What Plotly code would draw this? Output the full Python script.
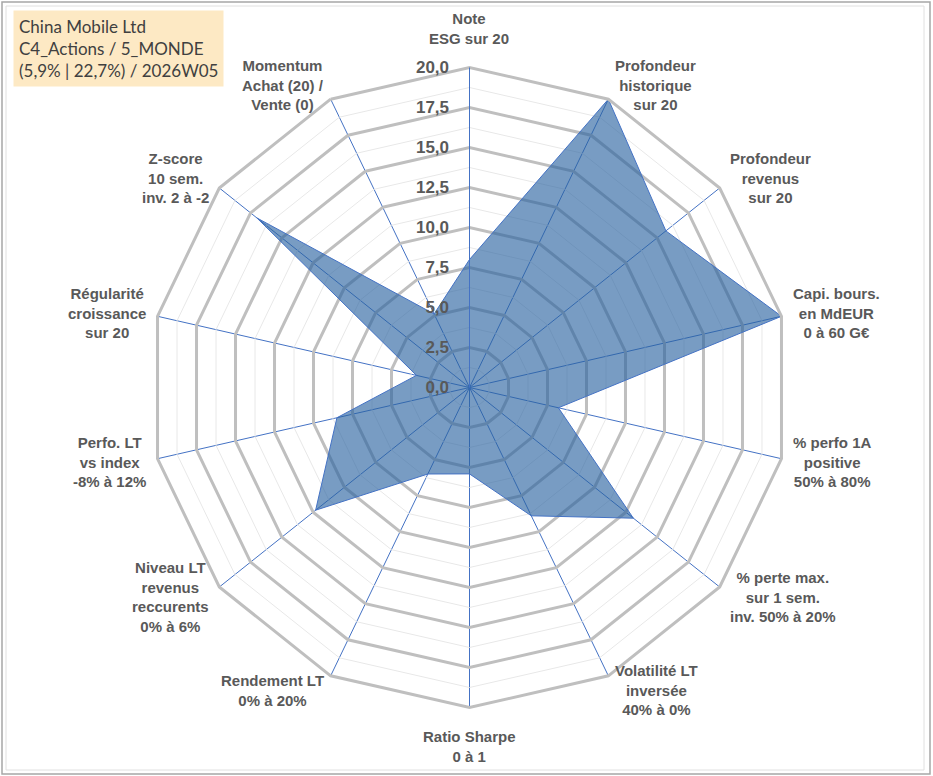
import math
import plotly.graph_objects as go

# axes of the radar, clockwise from the top
categories = [
    "Note<br>ESG sur 20",
    "Profondeur<br>historique<br>sur 20",
    "Profondeur<br>revenus<br>sur 20",
    "Capi. bours.<br>en MdEUR<br>0 à 60 G€",
    "% perfo 1A<br>positive<br>50% à 80%",
    "% perte max.<br>sur 1 sem.<br>inv. 50% à 20%",
    "Volatilité LT<br>inversée<br>40% à 0%",
    "Ratio Sharpe<br>0 à 1",
    "Rendement LT<br>0% à 20%",
    "Niveau LT<br>revenus<br>reccurents<br>0% à 6%",
    "Perfo. LT<br>vs index<br>-8% à 12%",
    "Régularité<br>croissance<br>sur 20",
    "Z-score<br>10 sem.<br>inv. 2 à -2",
    "Momentum<br>Achat (20) /<br>Vente (0)",
]
scores = [8.0, 20.0, 15.7, 20.0, 5.7, 13.1, 8.9, 5.4, 6.0, 12.3, 8.5, 3.4, 17.0, 5.1]

radial_ticks = [0, 2.5, 5, 7.5, 10, 12.5, 15, 17.5, 20]
minor_rings = [1.25, 3.75, 6.25, 8.75, 11.25, 13.75, 16.25, 18.75]

title_lines = ["China Mobile Ltd", "C4_Actions / 5_MONDE", "(5,9% | 22,7%) / 2026W05"]

grey_txt = "#595959"
blue = "#4472c4"

W, H = 933, 776
cx, cy, R = 469.5, 387.5, 320  # pixel centre / radius of the radar

fig = go.Figure()

# light minor rings between the major ones
for v in minor_rings:
    fig.add_trace(go.Scatterpolar(
        r=[v] * (len(categories) + 1),
        theta=categories + [categories[0]],
        mode="lines",
        line=dict(color="#e8e8e8", width=1),
        hoverinfo="skip",
        showlegend=False,
    ))

fig.add_trace(go.Scatterpolar(
    r=scores + [scores[0]],
    theta=categories + [categories[0]],
    mode="lines",
    fill="toself",
    fillcolor="rgba(41,98,160,0.63)",
    line=dict(color=blue, width=1),
    showlegend=False,
))

fig.update_layout(
    width=W,
    height=H,
    margin=dict(l=0, r=0, t=0, b=0),
    paper_bgcolor="white",
    separators=", ",
    font=dict(family="Liberation Sans, Arial, sans-serif", color=grey_txt),
    polar=dict(
        domain=dict(x=[(cx - R) / W, (cx + R) / W],
                    y=[(H - cy - R) / H, (H - cy + R) / H]),
        bgcolor="white",
        gridshape="linear",
        radialaxis=dict(
            range=[0, 20],
            tickvals=radial_ticks,
            tickformat=".1f",
            angle=90,
            tickangle=90,
            side="counterclockwise",
            showline=True,
            linecolor=blue,
            linewidth=1,
            # invisible ticks, only to push the labels away from the axis
            ticks="outside",
            ticklen=14,
            tickcolor="rgba(0,0,0,0)",
            gridcolor="#bfbfbf",
            gridwidth=3,
            tickfont=dict(size=17, color=grey_txt, weight="bold"),
        ),
        angularaxis=dict(
            direction="clockwise",
            rotation=90,
            showline=True,
            linecolor="#bfbfbf",
            linewidth=3,
            gridcolor=blue,
            gridwidth=1,
            ticks="",
            showticklabels=False,
        ),
    ),
)

# category labels, centred text just outside each outer vertex (Excel style)
n = len(categories)
for i, lab in enumerate(categories):
    a = 2 * math.pi * i / n
    sx, sy = math.sin(a), -math.cos(a)
    if abs(sx) < 0.1:
        xa, ya = "center", ("bottom" if sy < 0 else "top")
        px_, py_ = cx, cy + (R + 18) * sy
    else:
        xa, ya = ("left" if sx > 0 else "right"), "middle"
        px_ = cx + R * sx + 10 * sx
        py_ = cy + R * sy + 16 * sy
    fig.add_annotation(
        x=px_ / W, y=1 - py_ / H, xref="paper", yref="paper",
        xanchor=xa, yanchor=ya, align="center",
        text=lab, showarrow=False,
        font=dict(size=15, color=grey_txt, weight="bold"),
    )

# title box top-left
fig.add_annotation(
    x=13 / W, y=1 - 10 / H, xref="paper", yref="paper",
    xanchor="left", yanchor="top", align="left",
    text="<br>".join(title_lines),
    showarrow=False,
    bgcolor="#fde9c4",
    borderpad=5,
    font=dict(family="Lato, Open Sans, sans-serif", size=17, color="#404040"),
)

# chart border
fig.add_shape(type="rect", xref="paper", yref="paper",
              x0=2 / W, x1=930 / W, y0=2 / H, y1=774 / H,
              line=dict(color="#a6a6a6", width=1.5))
fig.add_shape(type="rect", xref="paper", yref="paper",
              x0=6 / W, x1=924 / W, y0=6 / H, y1=770 / H,
              line=dict(color="#e0e0e0", width=1))

# page has an 8px body margin by default; drop it so the figure sits at 0,0
fig.write_html("out.html", config={"displayModeBar": False},
               post_script="document.body.style.margin='0';")
